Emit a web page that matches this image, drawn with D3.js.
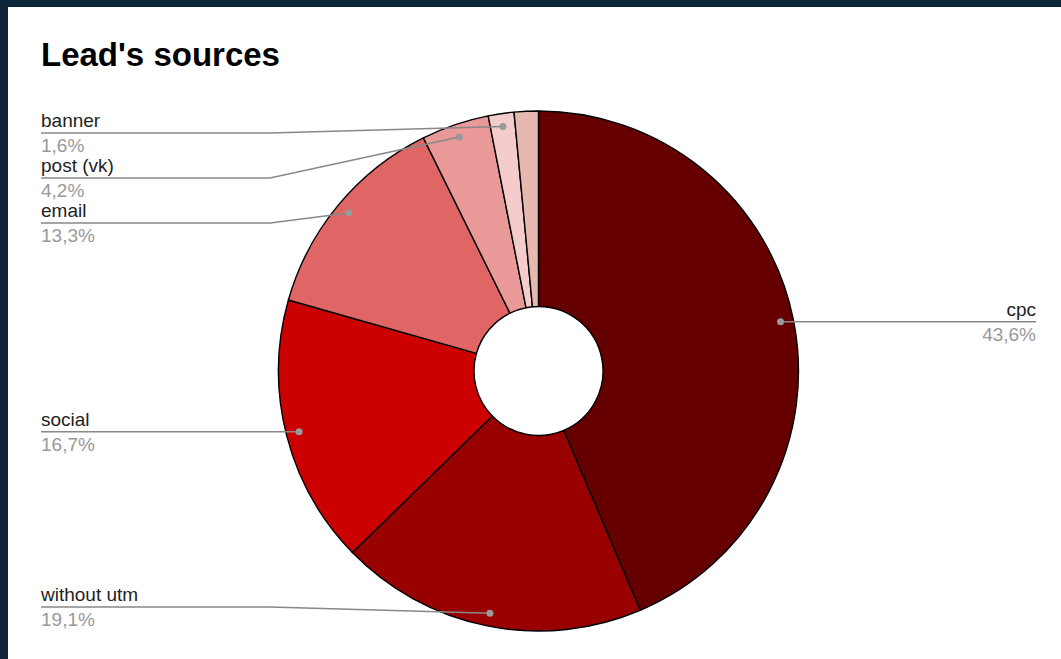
<!DOCTYPE html>
<html>
<head>
<meta charset="utf-8">
<script src="https://cdn.jsdelivr.net/npm/d3@7"></script>
<style>
  html, body { margin: 0; padding: 0; background: #0c2637; }
  svg { display: block; }
  text { font-family: "Liberation Sans", Arial, sans-serif; }
</style>
</head>
<body>
<svg id="chart" width="1061" height="659"></svg>
<script>
const title = "Lead's sources";
const categories = ["cpc", "without utm", "social", "email", "post (vk)", "banner", "other"];
const values = [43.6, 19.1, 16.7, 13.3, 4.2, 1.6, 1.5];
const showLabel = [true, true, true, true, true, true, false];
const colors = ["#660000", "#990000", "#cc0000", "#e06666", "#ea9999", "#f4cccc", "#e6b8af"];

const W = 1061, H = 659;
const svg = d3.select("#chart");

// card
svg.append("rect").attr("x", 8).attr("y", 7).attr("width", W - 8).attr("height", H - 7).attr("fill", "#ffffff");

svg.append("text").attr("x", 41).attr("y", 66)
  .attr("font-size", 33).attr("font-weight", "bold").attr("fill", "#000")
  .text(title);

const cx = 538.5, cy = 371, R = 260, r0 = 64.5, rDot = 247;
const total = d3.sum(values);
const data = categories.map((c, i) => ({ name: c, value: values[i], color: colors[i], show: showLabel[i] }));

const pie = d3.pie().sort(null).value(d => d.value);
const arcs = pie(data);
const arc = d3.arc().innerRadius(r0).outerRadius(R);
const g = svg.append("g").attr("transform", `translate(${cx},${cy})`);

g.selectAll("path.slice").data(arcs).join("path")
  .attr("class", "slice")
  .attr("d", arc)
  .attr("fill", d => d.data.color)
  .attr("stroke", "#000")
  .attr("stroke-width", 1.4)
  .attr("stroke-linejoin", "round");

// label layout
const fmt = v => d3.format(".1f")(v / total * 100).replace(".", ",") + "%";
const dotArc = d3.arc().innerRadius(rDot).outerRadius(rDot);
const labels = arcs.filter(a => a.data.show).map(a => {
  const [dx, dy] = dotArc.centroid(a);
  const mid = (a.startAngle + a.endAngle) / 2;
  return { a, x: cx + dx, y: cy + dy, side: mid < Math.PI ? "right" : "left", ly: cy + dy };
});
const minY = 133, maxY = 607, gap = 45;
["left", "right"].forEach(side => {
  const ls = labels.filter(l => l.side === side).sort((p, q) => p.y - q.y);
  ls.forEach(l => { l.ly = Math.max(minY, Math.min(maxY, l.y)); });
  for (let i = 1; i < ls.length; i++) {
    if (ls[i].ly < ls[i - 1].ly + gap) ls[i].ly = ls[i - 1].ly + gap;
  }
});

const lg = svg.append("g");
labels.forEach(l => {
  const left = l.side === "left";
  const xText = left ? 41 : 1036;
  const xBend = left ? 270 : 807;
  lg.append("path")
    .attr("d", d3.line()([[xText, l.ly], [xBend, l.ly], [l.x, l.y]]))
    .attr("fill", "none").attr("stroke", "#888").attr("stroke-width", 1.5);
  lg.append("circle").attr("cx", l.x).attr("cy", l.y).attr("r", 3.5).attr("fill", "#999");
  lg.append("text").attr("x", xText).attr("y", l.ly - 6)
    .attr("text-anchor", left ? "start" : "end")
    .attr("font-size", 19).attr("fill", "#222").text(l.a.data.name);
  lg.append("text").attr("x", xText).attr("y", l.ly + 19)
    .attr("text-anchor", left ? "start" : "end")
    .attr("font-size", 19).attr("fill", "#999").text(fmt(l.a.data.value));
});
</script>
</body>
</html>
